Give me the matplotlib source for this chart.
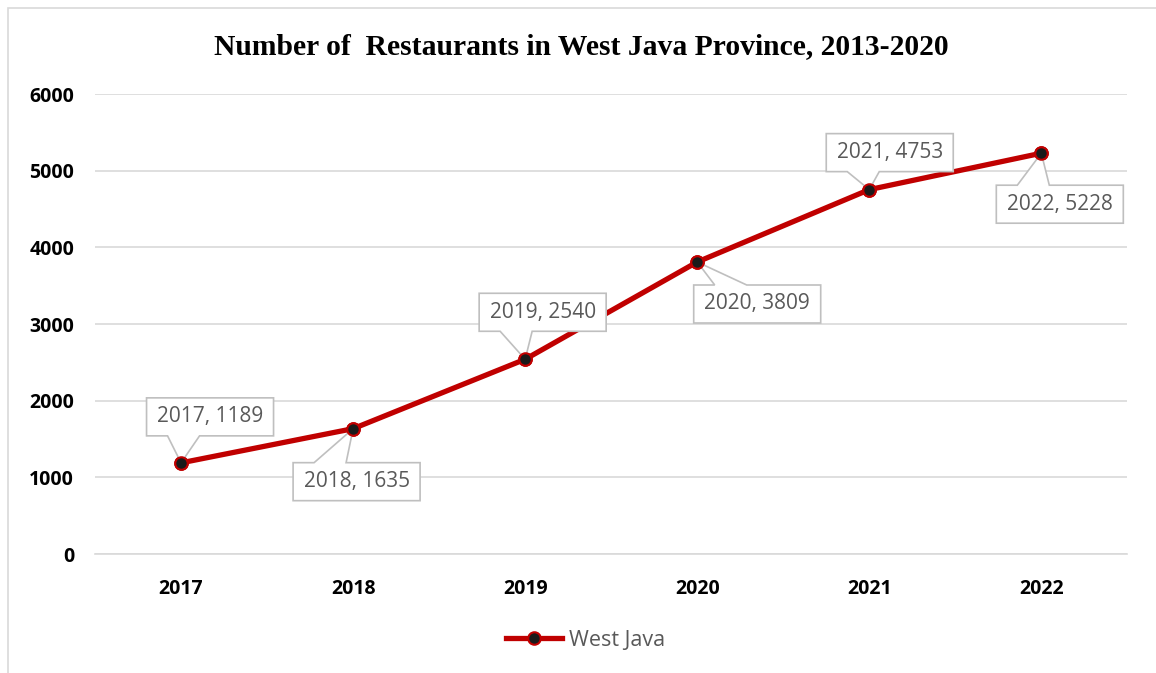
import numpy as np
import matplotlib.pyplot as plt
from matplotlib.patches import Rectangle, Polygon
from matplotlib.transforms import IdentityTransform

# data
years = ['2017', '2018', '2019', '2020', '2021', '2022']
restaurants = [1189, 1635, 2540, 3809, 4753, 5228]
yticks = [0, 1000, 2000, 3000, 4000, 5000, 6000]

# callout box centre offsets from the point, in pixels (dx, dy)
label_offsets = [(29, 46), (3.5, -53), (17.5, 47), (60, -42), (20.5, 37), (18.5, -51)]
box_w, box_h = 127, 38

fig = plt.figure(figsize=(11.56, 6.73), dpi=100)
ax = fig.add_axes([0.0822, 0.1768, 0.893, 0.6835])

# outer border of the chart
fig.patches.append(Rectangle((0.007, -0.1), 1.2, 1.088, transform=fig.transFigure,
                             fill=False, edgecolor='#d9d9d9', linewidth=1.2))

x = np.arange(len(years))
ax.plot(x, restaurants, color='#c00000', linewidth=3.8, marker='o', markersize=9,
        markerfacecolor='#1a1a1a', markeredgecolor='#c00000', markeredgewidth=1.5,
        label='West Java', zorder=3)
# markers again on top of the callouts
ax.plot(x, restaurants, linestyle='none', marker='o', markersize=9,
        markerfacecolor='#1a1a1a', markeredgecolor='#c00000', markeredgewidth=1.5, zorder=8)

ax.set_xlim(-0.5, len(years) - 0.5)
ax.set_ylim(0, 6000)

# callouts: box with a pointer, drawn in pixels
for xi, yi, yr, (dx, dy) in zip(x, restaurants, years, label_offsets):
    px, py = ax.transData.transform((xi, yi))
    cx, cy = px + dx, py + dy
    L, R = cx - box_w / 2, cx + box_w / 2
    B, T = cy - box_h / 2, cy + box_h / 2
    if py < B:
        verts = [(L, B), (L + 21, B), (px, py), (L + 53, B), (R, B), (R, T), (L, T)]
    else:
        verts = [(L, T), (L + 21, T), (px, py), (L + 53, T), (R, T), (R, B), (L, B)]
    ax.add_artist(Polygon(verts, closed=True, transform=IdentityTransform(), fc='white',
                          ec='#bfbfbf', lw=1.2, zorder=6, clip_on=False))
    ax.text(cx, cy, f'{yr}, {yi}', transform=IdentityTransform(), ha='center', va='center',
            fontsize=15, color='#595959', family='Open Sans', zorder=7)

ax.set_xticks(x)
ax.set_xticklabels(years)
ax.set_yticks(yticks)
for lab in ax.get_xticklabels() + ax.get_yticklabels():
    lab.set_fontweight('bold')
    lab.set_fontsize(14)
    lab.set_family('Open Sans')
ax.tick_params(length=0)
ax.tick_params(axis='x', pad=18)
ax.tick_params(axis='y', pad=15)
ax.grid(axis='y', color='#d9d9d9', linewidth=1.2)
ax.set_axisbelow(True)
for s in ['top', 'right', 'left']:
    ax.spines[s].set_visible(False)
ax.spines['bottom'].set_color('#d9d9d9')
ax.spines['bottom'].set_linewidth(1.2)

fig.text(0.503, 0.931, 'Number of  Restaurants in West Java Province, 2013-2020',
         ha='center', va='center', fontsize=21.3, fontweight='bold', family='Liberation Serif')

leg = ax.legend(loc='center', bbox_to_anchor=(0.475, -0.187), frameon=False,
                prop={'family': 'Open Sans', 'size': 15.5}, handlelength=2.6, handletextpad=0.3)
for t in leg.get_texts():
    t.set_color('#595959')

fig.savefig('out.png', dpi=100)
